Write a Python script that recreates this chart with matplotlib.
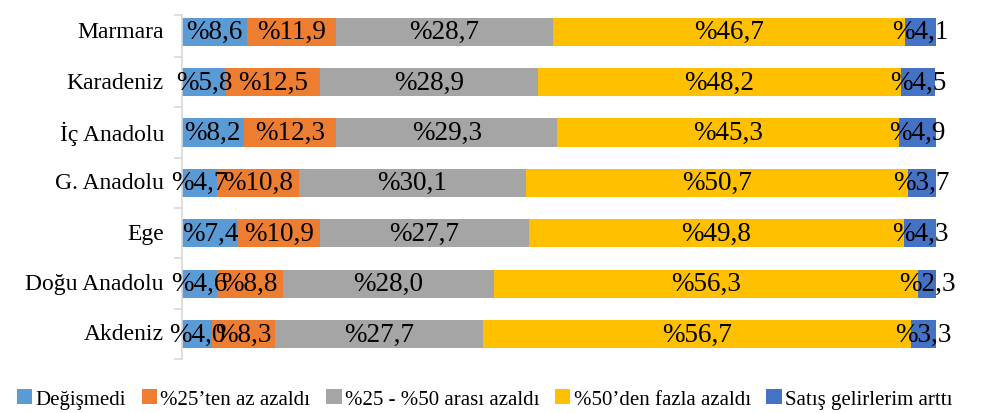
import numpy as np
import matplotlib
matplotlib.use("Agg")
import matplotlib.pyplot as plt

regions = ["Marmara", "Karadeniz", "İç Anadolu", "G. Anadolu", "Ege", "Doğu Anadolu", "Akdeniz"]
series_names = ["Değişmedi", "%25’ten az azaldı", "%25 - %50 arası azaldı",
                "%50’den fazla azaldı", "Satış gelirlerim arttı"]
degismedi = [8.6, 5.8, 8.2, 4.7, 7.4, 4.6, 4.0]
az_azaldi = [11.9, 12.5, 12.3, 10.8, 10.9, 8.8, 8.3]
arasi_azaldi = [28.7, 28.9, 29.3, 30.1, 27.7, 28.0, 27.7]
fazla_azaldi = [46.7, 48.2, 45.3, 50.7, 49.8, 56.3, 56.7]
artti = [4.1, 4.5, 4.9, 3.7, 4.3, 2.3, 3.3]
colors = ["#5B9BD5", "#ED7D31", "#A5A5A5", "#FFC000", "#4472C4"]

plt.rcParams["font.family"] = ["Liberation Serif", "DejaVu Serif"]

fig = plt.figure(figsize=(9.89, 4.14), dpi=100)
ax = fig.add_axes([0.184, 0.130, 0.762, 0.831])

y = np.arange(len(regions))
left = np.zeros(len(regions))
for name, vals, c in zip(series_names,
                         [degismedi, az_azaldi, arasi_azaldi, fazla_azaldi, artti],
                         colors):
    vals = np.array(vals)
    ax.barh(y, vals, left=left, height=0.56, color=c, label=name)
    for yi, l, v in zip(y, left, vals):
        ax.text(l + v / 2, yi, "%" + f"{v:.1f}".replace(".", ","),
                ha="center", va="center", fontsize=19.5, color="black")
    left += vals

ax.set_xlim(0, 100)
ax.set_ylim(6.5, -0.33)
ax.set_yticks(y)
ax.set_yticklabels(regions, fontsize=17, va="center")
ax.tick_params(axis="y", which="major", length=0, pad=13)
ax.set_yticks(np.concatenate([[-0.33], np.arange(0.5, 7, 1)]), minor=True)
ax.tick_params(axis="y", which="minor", length=6, color="#D9D9D9", width=1.2)
ax.set_xticks([])
for s in ["top", "right", "bottom"]:
    ax.spines[s].set_visible(False)
ax.spines["left"].set_color("#D9D9D9")
ax.spines["left"].set_linewidth(1.2)

fig.legend(loc="lower center", bbox_to_anchor=(0.49, -0.035), ncol=5, frameon=False,
           fontsize=15, handlelength=0.75, handleheight=0.75, handletextpad=0.15,
           columnspacing=0.75)

fig.savefig("out.png", dpi=100)
